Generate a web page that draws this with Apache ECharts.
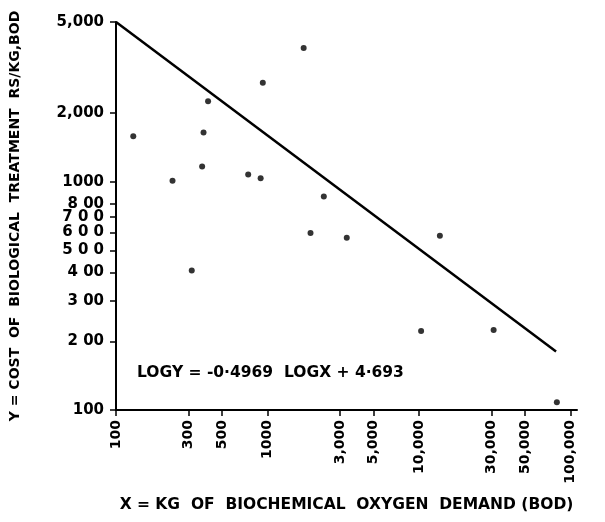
<!DOCTYPE html>
<html>
<head>
<meta charset="utf-8">
<script src="https://cdn.jsdelivr.net/npm/echarts@6/dist/echarts.min.js"></script>
<style>
  html, body { margin: 0; padding: 0; background: #fff; }
  #chart { width: 605px; height: 522px; }
</style>
</head>
<body>
<div id="chart"></div>
<script>
// observed points: kg BOD vs cost Rs/kg BOD
var bodKg = [130, 236, 316, 1730, 930, 405, 378, 370, 745, 900, 2350, 1920, 3330, 13700, 10300, 31000, 81000];
var costRs = [1580, 1010, 408, 3850, 2710, 2250, 1640, 1165, 1075, 1035, 860, 596, 568, 580, 222, 224, 108];

// regression: log y = a log x + b
var slope = -0.4969;
var intercept = 4.693;
var lineX = [100, 80000];

var xTicks = [100, 300, 500, 1000, 3000, 5000, 10000, 30000, 50000, 100000];
var xTickText = ['100', '300', '500', '1000', '3,000', '5,000', '10,000', '30,000', '50,000', '100,000'];
var yTicks = [100, 200, 300, 400, 500, 600, 700, 800, 1000, 2000, 5000];
var yTickText = ['100', '2 00', '3 00', '4 00', '5 0 0', '6 0 0', '7 0 0', '8 00', '1000', '2,000', '5,000'];

var points = bodKg.map(function (x, i) { return [x, costRs[i]]; });
var linePts = lineX.map(function (x) {
    return [x, Math.pow(10, slope * Math.log10(x) + intercept)];
});

var font = '"DejaVu Sans", sans-serif';
var chart = echarts.init(document.getElementById('chart'));
chart.setOption({
    animation: false,
    grid: { left: 115, right: 28, top: 22, bottom: 112 },
    xAxis: {
        type: 'log',
        logBase: 10,
        min: 100,
        max: 110000,
        name: 'X = KG  OF  BIOCHEMICAL  OXYGEN  DEMAND (BOD)',
        nameLocation: 'middle',
        nameGap: 87,
        nameTextStyle: { color: '#000', fontSize: 15.5, fontWeight: 'bold', fontFamily: font },
        axisLine: { lineStyle: { color: '#000', width: 2 } },
        axisTick: { show: true, customValues: xTicks, length: 6, lineStyle: { color: '#000', width: 1.5 } },
        axisLabel: {
            customValues: xTicks,
            rotate: 90,
            margin: 10,
            color: '#000',
            fontSize: 14,
            fontWeight: 'bold',
            fontFamily: font,
            formatter: function (v) {
                var i = xTicks.indexOf(Math.round(v));
                return i >= 0 ? xTickText[i] : '';
            }
        },
        splitLine: { show: false },
        minorTick: { show: false }
    },
    yAxis: {
        type: 'log',
        logBase: 10,
        min: 100,
        max: 5000,
        name: 'Y = COST  OF  BIOLOGICAL  TREATMENT  RS/KG,BOD',
        nameLocation: 'middle',
        nameGap: 94,
        nameTextStyle: { color: '#000', fontSize: 14, fontWeight: 'bold', fontFamily: font },
        axisLine: { lineStyle: { color: '#000', width: 2 } },
        axisTick: { show: true, customValues: yTicks, length: 6, lineStyle: { color: '#000', width: 1.5 } },
        axisLabel: {
            customValues: yTicks,
            margin: 12,
            color: '#000',
            fontSize: 15,
            fontWeight: 'bold',
            fontFamily: font,
            formatter: function (v) {
                var i = yTicks.indexOf(Math.round(v));
                return i >= 0 ? yTickText[i] : '';
            }
        },
        splitLine: { show: false },
        minorTick: { show: false }
    },
    graphic: [{
        type: 'text',
        left: 137,
        top: 365,
        style: {
            text: 'LOGY = -0·4969  LOGX + 4·693',
            fill: '#000',
            font: 'bold 15.5px "DejaVu Sans", sans-serif'
        }
    }],
    series: [{
        type: 'scatter',
        data: points,
        symbol: 'circle',
        symbolSize: 6,
        itemStyle: { color: '#000' }
    }, {
        type: 'line',
        data: linePts,
        symbol: 'none',
        lineStyle: { color: '#000', width: 2.5 }
    }]
});
</script>
</body>
</html>
